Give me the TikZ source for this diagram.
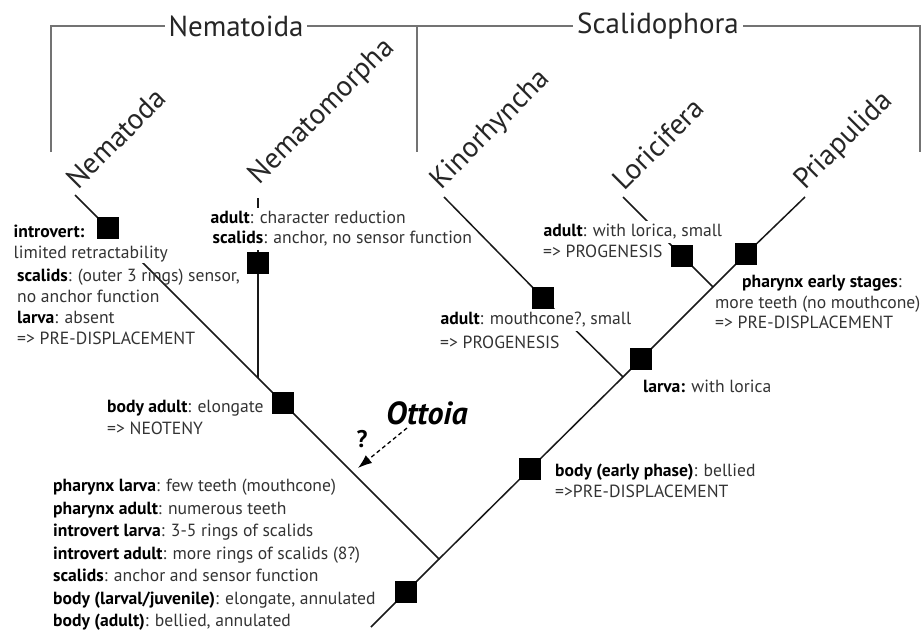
\documentclass[tikz,border=0pt]{standalone}
\usepackage{fontspec}
\setmainfont{PT Sans}
\usetikzlibrary{arrows.meta,backgrounds}
\pgfdeclarelayer{front}
\pgfsetlayers{background,main,front}
\newcommand\kw[1]{\textcolor{black}{\bfseries #1}}
\begin{document}
\begin{tikzpicture}[x=1pt,y=-1pt,
  sq/.style={fill=black,minimum width=22pt,minimum height=22pt,inner sep=0pt,outer sep=0pt},
  tree/.style={line width=1.5pt,black!90},
  brk/.style={line width=1.6pt,black!55},
  taxon/.style={font=\fontsize{29}{33}\selectfont,text=black!85,rotate=45,inner sep=0pt},
  grp/.style={font=\fontsize{29}{33}\selectfont,text=black!85,fill=white,inner sep=4pt},
  txt/.style={font=\fontsize{17.6}{21}\selectfont,anchor=north west,align=left,inner sep=0pt,text=black!80},
  wtxt/.style={txt,fill=white,inner sep=0.5pt},
  ott/.style={font=\fontsize{32}{36}\selectfont\bfseries\itshape,anchor=west,inner sep=0pt},
  qm/.style={font=\fontsize{24}{28}\selectfont\bfseries,inner sep=0pt},
  darr/.style={line width=1.3pt,dash pattern=on 4pt off 3pt,-{Latex[length=14pt,width=10pt]}}
]
\useasboundingbox (0,0) rectangle (922,632);

% bracket
\coordinate (bl) at (51,152);
\coordinate (blt) at (51,26);
\coordinate (bm) at (417,152);
\coordinate (bmt) at (417,26);
\coordinate (br) at (920,152);
\coordinate (brt) at (920,26);
\draw[brk] (bl) -- (blt) -- (brt) -- (br);
\draw[brk] (bmt) -- (bm);
\node[grp] (nemg) at (236,26) {Nematoida};
\node[grp] (scag) at (658,26) {Scalidophora};

% taxa
\node[taxon] (nd) at (116,138) {Nematoda};
\node[taxon] (nm) at (322,112) {Nematomorpha};
\node[taxon] (ki) at (491,130) {Kinorhyncha};
\node[taxon] (lo) at (658,144) {Loricifera};
\node[taxon] (pr) at (844,141) {Priapulida};

% character texts
\node[wtxt] (tA1) at (13,222) {\kw{introvert:}\strut\\limited retractability};
\node[txt] (tA2) at (17,267) {\kw{scalids}: (outer 3 rings) sensor,\strut\\no anchor function\\\kw{larva}: absent\\=> PRE-DISPLACEMENT};
\node[wtxt] (tB1) at (210,208) {\kw{adult}: character reduction\strut};
\node[wtxt] (tB2) at (212,228) {\kw{scalids}: anchor, no sensor function\strut};
\node[txt,font=\fontsize{17.6}{22}\selectfont] (tC) at (107,397) {\kw{body adult}: elongate\strut\\=> NEOTENY};
\node[txt,font=\fontsize{17.6}{22.5}\selectfont] (tD) at (53,476) {\kw{pharynx larva}: few teeth (mouthcone)\strut\\\kw{pharynx adult}: numerous teeth\\\kw{introvert larva}: 3-5 rings of scalids\\\kw{introvert adult}: more rings of scalids (8?)\\\kw{scalids}: anchor and sensor function\\\kw{body (larval/juvenile)}: elongate, annulated\\\kw{body (adult)}: bellied, annulated};
\node[wtxt] (tE1) at (543,221) {\kw{adult}: with lorica, small\strut};
\node[txt] (tE2) at (543,243) {=> PROGENESIS\strut};
\node[wtxt] (tF1) at (440,309) {\kw{adult}: mouthcone?, small\strut};
\node[txt] (tF2) at (440,334) {=> PROGENESIS\strut};
\node[txt] (tG1) at (742,273) {\kw{pharynx early stages}:\strut};
\node[txt,font=\fontsize{17.6}{20}\selectfont] (tG2) at (715,294) {more teeth (no mouthcone)\strut\\=> PRE-DISPLACEMENT};
\node[txt] (tH) at (643,378) {\kw{larva:} with lorica\strut};
\node[txt] (tI) at (555,462) {\kw{body (early phase)}: bellied\strut\\=>PRE-DISPLACEMENT};

% Ottoia
\node[ott] (ottoia) at (386,413) {Ottoia};
\node[qm] (q) at (362,439) {?};
\coordinate (oa) at (407,428);
\coordinate (ob) at (358,468);
\draw[darr] (oa) -- (ob);

% tree nodes
\begin{pgfonlayer}{front}
\coordinate (tNd) at (75,195);
\node[sq] (bNd) at (108,228) {};
\coordinate (jNm) at (258,378);
\node[sq] (bBa) at (283,403) {};
\coordinate (j0) at (439,559);
\node[sq] (b0) at (406,592) {};
\coordinate (rt) at (371,627);
\coordinate (tNm) at (258,198);
\node[sq] (bNm) at (258,263) {};
\node[sq] (bEp) at (530,469) {};
\coordinate (jK) at (623,377);
\node[sq] (bLv) at (641,359) {};
\coordinate (jLP) at (713,287);
\node[sq] (bPr) at (746,254) {};
\coordinate (tPr) at (805,197);
\node[sq] (bK) at (543,298) {};
\coordinate (tK) at (444,197);
\node[sq] (bL) at (682,256) {};
\coordinate (tL) at (623,197);
\end{pgfonlayer}

\begin{pgfonlayer}{background}
\draw[tree] (tNd) -- (bNd.center) -- (jNm) -- (bBa.center) -- (j0) -- (b0.center) -- (rt);
\draw[tree] (tNm) -- (bNm.center) -- (jNm);
\draw[tree] (j0) -- (bEp.center) -- (jK) -- (bLv.center) -- (jLP) -- (bPr.center) -- (tPr);
\draw[tree] (jK) -- (bK.center) -- (tK);
\draw[tree] (jLP) -- (bL.center) -- (tL);
\end{pgfonlayer}
\end{tikzpicture}
\end{document}
